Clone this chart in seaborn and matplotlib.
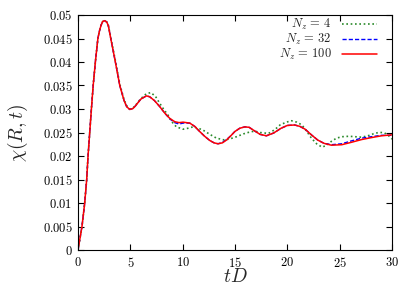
import matplotlib
matplotlib.use("Agg")
import matplotlib.pyplot as plt
import seaborn as sns
from matplotlib.ticker import FuncFormatter

sns.set_style("ticks")
plt.rcParams["mathtext.fontset"] = "cm"
plt.rcParams["font.family"] = ["DejaVu Serif"]

# ---- data ----
t_red = [0, 0.38, 0.64, 0.83, 0.96, 1.12, 1.28, 1.45, 1.66, 1.9, 2.05, 2.2, 2.35,
         2.55, 2.75, 2.9, 3.13, 3.57, 3.99, 4.4, 4.65, 4.94, 5.25, 5.5, 6.0, 6.54,
         6.85, 7.3, 7.81, 8.3, 8.77, 9.24, 9.65, 10.04, 10.68, 11.15, 11.63, 12.1,
         12.59, 13.0, 13.38, 13.8, 14.19, 14.6, 14.98, 15.45, 15.94, 16.35, 16.9,
         17.4, 18.0, 18.7, 19.4, 20.0, 20.7, 21.2, 21.7, 22.3, 22.9, 23.5, 24.2,
         25.2, 26.1, 27.1, 28.0, 29.0, 30.0]
chi_nz100 = [0, 0.005, 0.010, 0.015, 0.020, 0.025, 0.030, 0.035, 0.040, 0.045,
             0.0466, 0.0478, 0.0486, 0.0488, 0.0485, 0.0477, 0.045, 0.040, 0.035,
             0.0318, 0.0305, 0.0299, 0.0301, 0.0307, 0.0321, 0.0328, 0.0326,
             0.0318, 0.0305, 0.0291, 0.0280, 0.0273, 0.0271, 0.0272, 0.0270,
             0.0263, 0.0252, 0.0242, 0.0233, 0.0228, 0.0226, 0.0228, 0.0234,
             0.0243, 0.0252, 0.0259, 0.0262, 0.0261, 0.0253, 0.0246, 0.0243,
             0.0249, 0.0259, 0.0265, 0.0266, 0.0263, 0.0257, 0.0245, 0.0234,
             0.0227, 0.0223, 0.0224, 0.0229, 0.0235, 0.0239, 0.0243, 0.0245]
chi_nz32 = [0, 0.005, 0.010, 0.015, 0.020, 0.025, 0.030, 0.035, 0.040, 0.045,
            0.0466, 0.0478, 0.0486, 0.0488, 0.0485, 0.0477, 0.045, 0.040, 0.035,
            0.0318, 0.0305, 0.0299, 0.0301, 0.0307, 0.0321, 0.0328, 0.0326,
            0.0318, 0.0305, 0.0291, 0.0279, 0.0271, 0.0268, 0.0270, 0.0270,
            0.0263, 0.0252, 0.0242, 0.0233, 0.0228, 0.0226, 0.0229, 0.0235,
            0.0243, 0.0252, 0.0259, 0.0262, 0.0261, 0.0253, 0.0246, 0.0243,
            0.0249, 0.0259, 0.0265, 0.0266, 0.0263, 0.0257, 0.0245, 0.0234,
            0.0227, 0.0224, 0.0226, 0.0232, 0.0238, 0.0241, 0.0244, 0.0244]
t_green = [0, 0.38, 0.64, 0.83, 0.96, 1.12, 1.28, 1.45, 1.66, 1.9, 2.05, 2.2, 2.35,
           2.55, 2.75, 2.9, 3.13, 3.57, 3.99, 4.4, 4.65, 4.94, 5.25, 5.5, 6.0, 6.5,
           6.95, 7.4, 7.81, 8.2, 8.6, 9.0, 9.4, 10.04, 10.5, 11.0, 11.5, 11.95,
           12.6, 13.23, 14.0, 14.6, 15.14, 15.8, 16.4, 16.9, 17.37, 18.2, 18.8,
           19.3, 19.9, 20.4, 20.9, 21.4, 21.9, 22.3, 22.8, 23.3, 23.7, 24.2, 24.7,
           25.2, 25.9, 26.5, 27.1, 27.7, 28.2, 28.7, 29.2, 29.6, 30.0]
chi_nz4 = [0, 0.005, 0.010, 0.015, 0.020, 0.025, 0.030, 0.035, 0.040, 0.045,
           0.0466, 0.0478, 0.0486, 0.0488, 0.0485, 0.0478, 0.0452, 0.0403, 0.0353,
           0.0320, 0.0307, 0.0300, 0.0302, 0.0308, 0.0322, 0.0332, 0.0335, 0.0327,
           0.0312, 0.0299, 0.0287, 0.0272, 0.0262, 0.0257, 0.0259, 0.0262,
           0.0259, 0.0255, 0.0246, 0.0238, 0.0234, 0.0237, 0.0241, 0.0247,
           0.0251, 0.0253, 0.0250, 0.0248, 0.0256, 0.0266, 0.0272, 0.0275,
           0.0272, 0.0266, 0.0251, 0.0238, 0.0226, 0.0219, 0.0222, 0.0231,
           0.0238, 0.0241, 0.0242, 0.0241, 0.0240, 0.0243, 0.0247, 0.0250,
           0.0250, 0.0245, 0.0236]
labels = [r"$N_z\,=\,4$", r"$N_z\,=\,32$", r"$N_z\,=\,100$"]
x_ticks = [0, 5, 10, 15, 20, 25, 30]
y_ticks = [0, 0.005, 0.01, 0.015, 0.02, 0.025, 0.03, 0.035, 0.04, 0.045, 0.05]

fig = plt.figure(figsize=(4.15, 2.91), dpi=100)
ax = fig.add_axes([78 / 415, 41 / 291, 314 / 415, 235 / 291])

sns.lineplot(x=t_green, y=chi_nz4, ax=ax, color="#2a8a2a", lw=1.2,
             linestyle=(0, (1, 1.6)), label=labels[0], sort=False)
sns.lineplot(x=t_red, y=chi_nz32, ax=ax, color="#0000ff", lw=1.0,
             linestyle=(0, (3, 1.5)), label=labels[1], sort=False)
sns.lineplot(x=t_red, y=chi_nz100, ax=ax, color="#ff0000", lw=1.1,
             label=labels[2], sort=False)

ax.set_xlim(0, 30)
ax.set_ylim(0, 0.05)
ax.set_xticks(x_ticks)
ax.set_yticks(y_ticks)
fmt = FuncFormatter(lambda v, p: "$%g$" % round(v, 4))
ax.xaxis.set_major_formatter(fmt)
ax.yaxis.set_major_formatter(fmt)
ax.tick_params(direction="in", top=True, right=True, length=4, width=0.8,
               labelsize=9, colors="black", pad=4)
for s in ax.spines.values():
    s.set_visible(True)
    s.set_linewidth(0.8)
    s.set_color("black")

ax.set_xlabel(r"$tD$", fontsize=14, labelpad=-1)
ax.set_ylabel(r"$\chi(R,t)$", fontsize=14, labelpad=9)

leg = ax.legend(loc="upper right", bbox_to_anchor=((377 - 78) / 314, (250 - 17) / 235),
                frameon=False, markerfirst=False, fontsize=9,
                handlelength=2.8, labelspacing=0.0, borderpad=0,
                borderaxespad=0, handletextpad=0.8)

fig.savefig("out.png", dpi=100)
